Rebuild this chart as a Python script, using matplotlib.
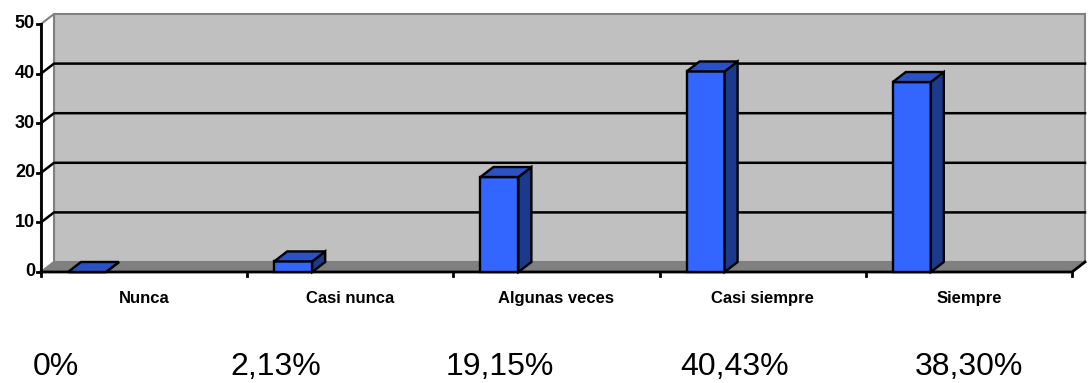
import matplotlib
matplotlib.use("Agg")
import matplotlib.pyplot as plt
from matplotlib.patches import Polygon, Rectangle

categorias = ["Nunca", "Casi nunca", "Algunas veces", "Casi siempre", "Siempre"]
valores = [0, 2.13, 19.15, 40.43, 38.30]
porcentajes = ["0%", "2,13%", "19,15%", "40,43%", "38,30%"]
yticks = [0, 10, 20, 30, 40, 50]

W, H = 1089, 383
fig = plt.figure(figsize=(W / 100, H / 100), dpi=100)
# front plane of the 3d box: x 41..1072 px, y 272..24 px
ax = fig.add_axes([41 / W, (H - 272) / H, 1031 / W, 248 / H])
ax.set_xlim(0, 5)
ax.set_ylim(0, 50)
ax.axis("off")

# depth offset of the 3d look (13 px right, 10 px up)
DX = 13 / 206.2
DY = 10 / 4.96
n = len(categorias)
ymax = yticks[-1]

# walls and floor
ax.add_patch(Rectangle((DX, DY), n, ymax, facecolor="#c0c0c0", edgecolor="#808080",
                       lw=1.5, clip_on=False, zorder=1))
ax.add_patch(Polygon([(0, 0), (DX, DY), (DX, ymax + DY), (0, ymax)], closed=True,
                     facecolor="white", edgecolor="#808080", lw=1.5, clip_on=False, zorder=1))
ax.add_patch(Polygon([(0, 0), (n, 0), (n + DX, DY), (DX, DY)], closed=True,
                     facecolor="#808080", edgecolor="#808080", lw=1, clip_on=False, zorder=2))

# gridlines across side wall and back wall
for v in yticks[1:-1]:
    ax.plot([0, DX, n + DX], [v, v + DY, v + DY], color="black", lw=1.8,
            clip_on=False, zorder=3)

# axes lines and ticks
ax.plot([0, 0], [0, ymax], color="black", lw=2, clip_on=False, zorder=6)
ax.plot([0, n, n + DX], [0, 0, DY], color="black", lw=2, clip_on=False, zorder=6)
tx = 4 / 206.2
ty = 4 / 4.96
for v in yticks:
    ax.plot([-tx, 0], [v, v], color="black", lw=2, clip_on=False, zorder=6)
    ax.text(-tx * 1.5, v, str(v), ha="right", va="center", fontsize=13,
            fontweight="bold", family="Liberation Sans")
for i in range(n + 1):
    ax.plot([i, i], [0, -ty], color="black", lw=2, clip_on=False, zorder=6)

# 3d columns
off = 27 / 206.2
bw = 38 / 206.2
ec = dict(edgecolor="black", lw=1.7, clip_on=False, joinstyle="miter")
for i, v in enumerate(valores):
    x0 = i + off
    x1 = x0 + bw
    ax.add_patch(Polygon([(x0, 0), (x1, 0), (x1, v), (x0, v)], closed=True,
                         facecolor="#3366ff", zorder=8, **ec))
    ax.add_patch(Polygon([(x1, 0), (x1 + DX, DY), (x1 + DX, v + DY), (x1, v)], closed=True,
                         facecolor="#1c3a8c", zorder=8, **ec))
    ax.add_patch(Polygon([(x0, v), (x1, v), (x1 + DX, v + DY), (x0 + DX, v + DY)],
                         closed=True, facecolor="#2a52c6", zorder=9, **ec))

# category labels
for i, c in enumerate(categorias):
    ax.text(i + 0.5, -5.3, c, ha="center", va="center", fontsize=12,
            fontweight="bold", family="Liberation Sans")

# percentage labels under the chart
px = [56, 276, 500, 735, 969]
for x, p in zip(px, porcentajes):
    fig.text(x / W, 1 - 367 / H, p, ha="center", va="center", fontsize=23,
             family="Liberation Sans")

fig.savefig("out.png", dpi=100)
